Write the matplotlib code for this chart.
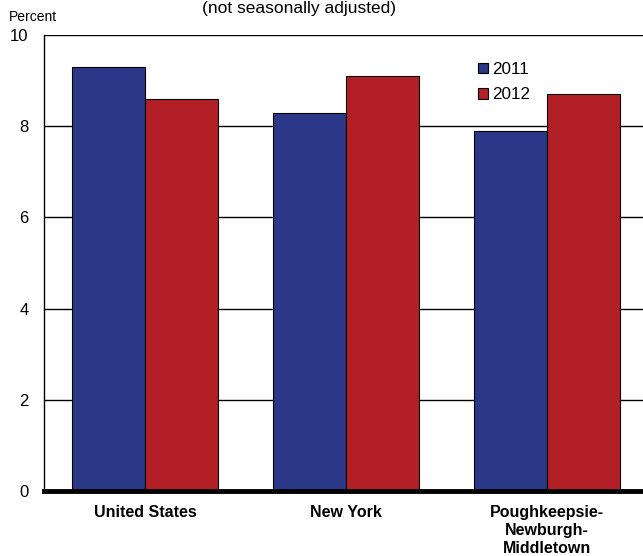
import matplotlib.pyplot as plt
import numpy as np

plt.rcParams['font.family'] = ['Liberation Sans', 'DejaVu Sans']

# unemployment rates, annual averages
areas = ["United States", "New York", "Poughkeepsie-\nNewburgh-\nMiddletown"]
years = ["2011", "2012"]
rate_2011 = [9.3, 8.3, 7.9]
rate_2012 = [8.6, 9.1, 8.7]
yticks = [0, 2, 4, 6, 8, 10]

blue = "#2B3787"
red = "#B21F26"

fig = plt.figure(figsize=(6.43, 5.56), dpi=100)
ax = fig.add_axes([44 / 643, 1 - 491 / 556, 599 / 643, 456 / 556])

x = np.arange(len(areas))
w = 0.365
ax.bar(x - w / 2, rate_2011, w, color=blue, edgecolor="black", linewidth=0.8,
       label=years[0], zorder=3)
ax.bar(x + w / 2, rate_2012, w, color=red, edgecolor="black", linewidth=0.8,
       label=years[1], zorder=3)

ax.set_ylim(0, 10)
ax.set_xlim(-0.502, 2.478)
ax.set_yticks(yticks)
ax.set_yticklabels([str(t) for t in yticks], fontsize=12)
ax.set_xticks(x)
ax.set_xticklabels(areas, fontsize=11.5, fontweight="bold", linespacing=1.25)
ax.tick_params(axis="both", length=0)
ax.tick_params(axis="y", pad=11)
ax.tick_params(axis="x", pad=10)

for t in yticks[1:]:
    ax.axhline(t, color="black", linewidth=1.0, zorder=1)

for s in ["top", "right"]:
    ax.spines[s].set_visible(False)
ax.spines["left"].set_linewidth(1.0)
ax.spines["bottom"].set_linewidth(3.5)
ax.spines["bottom"].set_zorder(5)

leg = ax.legend(loc="upper left", bbox_to_anchor=(0.7245, 0.941), frameon=False,
                fontsize=12.3, handlelength=0.6, handleheight=0.55,
                handletextpad=0.2, labelspacing=0.62, borderpad=0,
                borderaxespad=0)

fig.text(9 / 643, 1 - 17 / 556, "Percent", fontsize=10, ha="left", va="center")
fig.text(299 / 643, 1 - 8 / 556, "(not seasonally adjusted)", fontsize=12.5,
         ha="center", va="center")

fig.savefig("out.png", dpi=100)
